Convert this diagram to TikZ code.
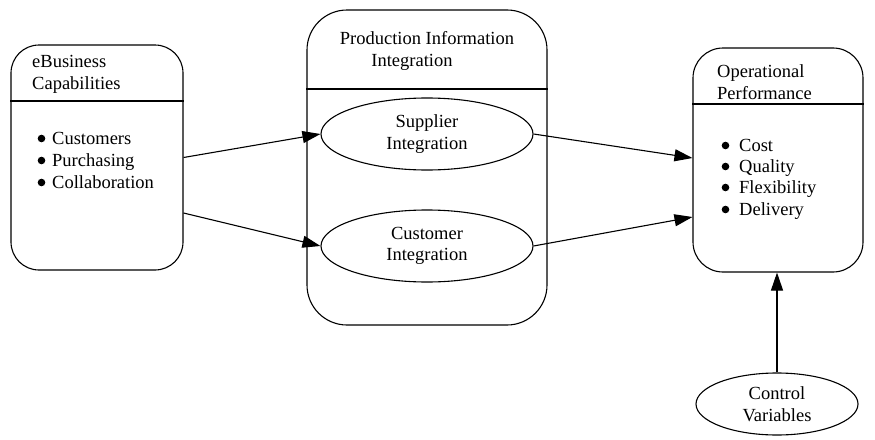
\documentclass[tikz,border=0pt]{standalone}
\usepackage{fontspec}
\setmainfont{Liberation Serif}
\usetikzlibrary{shapes.geometric,arrows.meta}
\begin{document}
\begin{tikzpicture}[x=1pt,y=-1pt,
  every node/.style={font=\fontsize{18.5}{21.5}\selectfont},
  box/.style={draw,line width=1.1pt,minimum width=#1},
  oval/.style={draw,ellipse,line width=1.1pt,inner sep=0pt,align=center},
  txt/.style={inner sep=0pt,anchor=base west},
  arr/.style={line width=1.1pt,-{Triangle[length=18pt,width=12pt]}}]
\useasboundingbox (0,0) rectangle (875,439);
% boxes
\node[box=172pt,minimum height=225pt,rounded corners=28pt] (L) at (97,157.5) {};
\node[box=240pt,minimum height=315pt,rounded corners=40pt] (M) at (427,167.5) {};
\node[box=170pt,minimum height=224pt,rounded corners=30pt] (R) at (778,160) {};
\draw[line width=1.1pt] (L.west |- 0,101) -- (L.east |- 0,101);
\draw[line width=1.1pt] (M.west |- 0,89) -- (M.east |- 0,89);
\draw[line width=1.1pt] (R.west |- 0,104) -- (R.east |- 0,104);
% left texts
\node[txt] (l1) at (32,67) {eBusiness};
\node[txt] (l2) at (32,89) {Capabilities};
\node[txt] (l3) at (52,144) {Customers};
\node[txt] (l4) at (52,166) {Purchasing};
\node[txt] (l5) at (52,188) {Collaboration};
\foreach \n in {l3,l4,l5} \fill ([xshift=-10.5pt,yshift=5.5pt]\n.base west) circle (3.8pt);
% middle texts
\node[inner sep=0pt,anchor=base] (m1) at (427,44) {Production Information};
\node[inner sep=0pt,anchor=base] (m2) at (412,66) {Integration};
\node[oval,minimum width=212pt,minimum height=72pt] (S) at (427,134) {Supplier\\Integration};
\node[oval,minimum width=212pt,minimum height=72pt] (C) at (427,246) {Customer\\Integration};
% right texts
\node[txt] (r1) at (717,77) {Operational};
\node[txt] (r2) at (717,99) {Performance};
\node[txt] (r3) at (739,151) {Cost};
\node[txt] (r4) at (739,172) {Quality};
\node[txt] (r5) at (739,193) {Flexibility};
\node[txt] (r6) at (739,215) {Delivery};
\foreach \n in {r3,r4,r5,r6} \fill ([xshift=-13.5pt,yshift=5.5pt]\n.base west) circle (3.8pt);
% control variables
\node[oval,minimum width=162pt,minimum height=62pt] (CV) at (777,404) {Control\\Variables};
% arrows
\draw[arr] (L.east) -- (S.west);
\draw[arr] ([yshift=-55.5pt]L.east) -- (C.west);
\draw[arr] (S.east) -- ([yshift=2pt]R.west);
\draw[arr] (C.east) -- ([yshift=-57pt]R.west);
\draw[arr] (CV.north) -- (CV.north |- R.south);
\end{tikzpicture}
\end{document}
